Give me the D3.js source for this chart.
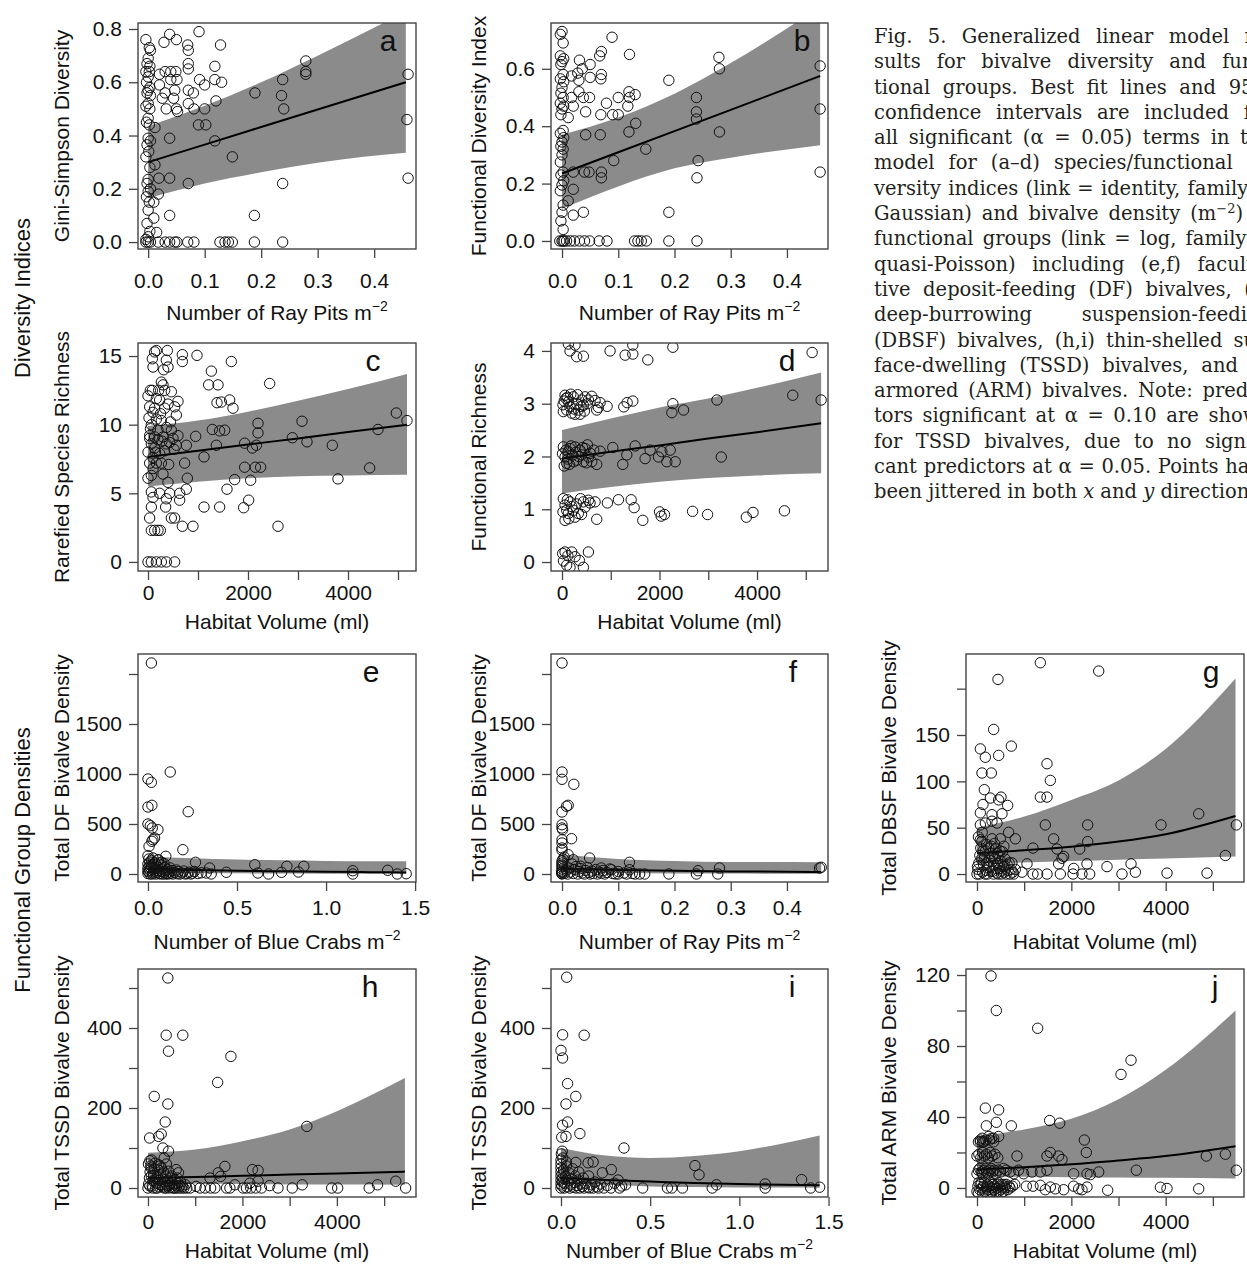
<!DOCTYPE html>
<html>
<head>
<meta charset="utf-8">
<script src="https://cdn.jsdelivr.net/npm/d3@7"></script>
<style>
  body { margin: 0; background: #fff; width: 1247px; height: 1264px; overflow: hidden; position: relative; }
  #fig { position: absolute; left: 0; top: 0; }
  #cap { position: absolute; left: 874px; top: 24px; width: 398px; font-family: "DejaVu Serif", serif;
         font-size: 19.5px; line-height: 25.3px; color: #231f20; }
  #cap .ln { white-space: nowrap; height: 25.3px; }
  #cap sup { font-size: 13px; line-height: 0; }
</style>
</head>
<body>
<svg id="fig"></svg>
<div id="cap"></div>
<script>
// ---------- tick values ----------
const ticksPits = [0, 0.1, 0.2, 0.3, 0.4];
const ticksCrabs = [0, 0.5, 1.0, 1.5];
const ticksHab = [0, 1000, 2000, 3000, 4000, 5000];
const labHab = [0, 2000, 4000];
const yTicksA = [0, 0.2, 0.4, 0.6, 0.8];
const yTicksB = [0, 0.2, 0.4, 0.6];
const yTicksC = [0, 5, 10, 15];
const yTicksD = [0, 1, 2, 3, 4];
const yTicksEF = [0, 500, 1000, 1500, 2000];
const yLabEF = [0, 500, 1000, 1500];
const yTicksG = [0, 50, 100, 150, 200];
const yLabG = [0, 50, 100, 150];
const yTicksHI = [0, 100, 200, 300, 400, 500];
const yLabHI = [0, 200, 400];
const yTicksJ = [0, 20, 40, 60, 80, 100, 120];
const yLabJ = [0, 40, 80, 120];

// ---------- points [x, y] ----------
const ptsA = [
  [-0.004,0.76],[0.002,0.73],[0.004,0.72],[0,0.69],[-0.002,0.67],[0.003,0.66],[-0.004,0.64],[0.002,0.64],[0,0.62],[-0.003,0.60],
  [0.003,0.58],[0,0.57],[-0.002,0.56],[0.004,0.55],[0,0.52],[-0.004,0.51],[0.003,0.50],[0,0.465],[-0.003,0.45],[0.002,0.44],
  [0,0.39],[0.004,0.38],[-0.002,0.365],[0.001,0.34],[-0.004,0.32],[0.003,0.28],[0,0.235],[-0.002,0.22],[0.004,0.20],[0,0.19],
  [-0.003,0.17],[0.002,0.15],[0,0.12],[-0.002,0.07],[0.003,0.04],[0,0.02],[-0.004,0.01],[-0.004,0],[0,0],[0.004,0],
  [0.012,0.43],[0.012,0.29],[0.019,0.24],[0.018,0.18],[0.01,0.15],[0.01,0.09],[0.015,0.036],[0.02,0.63],[0.02,0.59],[0.028,0.75],
  [0.03,0.64],[0.03,0.56],[0.032,0.50],[0.038,0.78],[0.038,0.39],[0.038,0.24],[0.038,0.10],[0.04,0.64],[0.04,0.61],[0.047,0.57],
  [0.049,0.64],[0.05,0.76],[0.05,0.50],[0.051,0.61],[0.052,0.49],[0.025,0.54],[0.045,0.54],[0.07,0.74],[0.071,0.72],[0.071,0.67],
  [0.071,0.65],[0.071,0.57],[0.071,0.52],[0.071,0.22],[0.08,0.56],[0.081,0.50],[0.09,0.79],[0.091,0.61],[0.089,0.44],[0.10,0.59],
  [0.10,0.50],[0.102,0.44],[0.118,0.66],[0.118,0.61],[0.12,0.53],[0.118,0.38],[0.128,0.74],[0.13,0.60],[0.149,0.32],[0.189,0.56],
  [0.188,0.10],[0.238,0.61],[0.236,0.55],[0.24,0.50],[0.238,0.22],[0.279,0.68],[0.279,0.64],[0.279,0.63],[0.46,0.63],[0.458,0.46],
  [0.46,0.24],[0.018,0],[0.03,0],[0.038,0],[0.047,0],[0.051,0],[0.07,0],[0.081,0],[0.127,0],[0.136,0],
  [0.142,0],[0.149,0],[0.188,0],[0.238,0]
];
const ptsB = [
  [0,0.73],[-0.003,0.72],[0.002,0.69],[-0.003,0.645],[0.003,0.635],[0,0.625],[-0.002,0.615],[0.002,0.58],[-0.003,0.565],[0.003,0.555],
  [0,0.535],[-0.002,0.515],[0.002,0.50],[-0.003,0.48],[0.003,0.47],[0,0.46],[-0.002,0.44],[0.002,0.385],[-0.003,0.375],[0.003,0.36],
  [0,0.345],[-0.002,0.33],[0.002,0.32],[0,0.30],[-0.003,0.275],[0.002,0.24],[-0.002,0.23],[0.003,0.21],[0,0.195],[-0.003,0.175],
  [0.002,0.125],[0,0.10],[-0.002,0.07],[0.002,0.04],[-0.004,0],[0,0],[0.004,0],[0.002,0],
  [0.011,0.43],[0.011,0.14],[0.017,0.575],[0.02,0.18],[0.02,0.09],[0.02,0.24],[0.017,0.50],[0.02,0.47],[0.028,0.585],[0.03,0.56],
  [0.031,0.63],[0.03,0.52],[0.036,0.60],[0.038,0.50],[0.038,0.10],[0.04,0.24],[0.042,0.45],[0.042,0.37],[0.048,0.24],[0.049,0.50],
  [0.05,0.615],[0.05,0.57],[0.067,0.645],[0.07,0.66],[0.07,0.58],[0.069,0.565],[0.069,0.44],[0.068,0.37],[0.07,0.24],[0.07,0.22],
  [0.079,0.48],[0.089,0.71],[0.092,0.28],[0.09,0.44],[0.10,0.44],[0.10,0.50],[0.12,0.65],[0.119,0.52],[0.117,0.47],[0.12,0.50],
  [0.13,0.51],[0.131,0.41],[0.119,0.38],[0.149,0.32],[0.19,0.56],[0.19,0.10],[0.239,0.50],[0.239,0.45],[0.239,0.425],[0.242,0.28],
  [0.24,0.22],[0.279,0.64],[0.28,0.60],[0.28,0.38],[0.459,0.61],[0.459,0.46],[0.459,0.24],
  [0.008,0],[0.015,0],[0.022,0],[0.031,0],[0.04,0],[0.049,0],[0.066,0],[0.08,0],[0.129,0],[0.135,0],[0.141,0],[0.15,0],[0.19,0],[0.24,0]
];
const ptsC = [
  [133,15.3],[167,15.4],[87,14.8],[100,14.2],[387,15.4],[367,14.7],[313,14],[400,14.2],[267,13.1],[300,12.9],
  [47,12.5],[87,12.5],[213,12.5],[333,12.5],[467,12.4],[0,12.1],[167,11.9],[233,11.8],[600,11.7],[400,11.5],
  [33,11.3],[133,11.2],[333,11.2],[533,11.3],[100,10.9],[567,10.7],[167,10.4],[267,10.3],[67,10],[367,9.8],
  [200,9.6],[467,9.6],[33,9.2],[133,9.1],[300,9.1],[600,9.2],[33,9],[200,8.9],[500,9],[67,8.6],
  [367,8.6],[433,8.7],[567,8.5],[133,8.3],[333,8.1],[0,8],[233,7.9],[33,7.2],[167,7.2],[267,7.2],
  [413,7.1],[100,6.8],[300,6.4],[67,6.3],[400,5.8],[0,6.1],[67,5.1],[233,5],[433,5],[100,4.7],
  [367,4.6],[67,4],[353,4],[467,3.2],[533,3.2],[33,3.2],[67,2.3],[133,2.3],[200,2.3],[247,2.3],
  [0,0],[67,0],[167,0],[267,0],[367,0],[533,0],[50,9.7],[250,10.8],[150,8.0],[280,8.8],
  [100,7.6],[20,10.5],[450,10.2],[520,8.2],
  [687,15.1],[687,14.6],[767,8.5],[733,7.2],[787,6.1],[767,5.3],[633,5],[633,4.5],[687,2.6],[900,2.6],
  [980,15.05],[953,9.15],[1120,7.65],[1120,4.0],[1267,13.9],[1213,12.9],[1400,12.9],[1380,11.6],[1467,11.65],[1287,9.65],
  [1433,9.55],[1533,9.6],[1367,8.5],[1433,4.0],[1580,5.3],[1633,11.8],[1667,14.6],[1700,11.2],[1733,6.0],[1933,8.65],
  [1933,6.9],[1913,3.95],[2013,4.5],[2087,8.3],[2053,5.95],[2167,8.5],[2200,10.1],[2200,9.4],[2147,6.9],[2253,6.9],
  [2433,13.0],[2600,2.6],[2887,9.05],[3080,10.25],[3180,8.75],[3687,8.5],[3800,6.05],[4433,6.85],[4600,9.65],[4967,10.85],
  [5180,10.3]
];
const ptsD = [
  [130,4.13],[164,4.0],[267,4.11],[301,3.89],[438,3.9],[986,4.0],[1295,3.92],[1452,3.94],[1452,4.11],[1760,3.83],[2274,4.07],[5130,3.97],
  [27,2.85],[62,3.16],[130,3.04],[164,2.94],[233,3.13],[301,3.0],[336,2.88],[404,3.07],[438,2.97],[473,3.13],
  [96,2.88],[199,2.82],[267,2.8],[370,2.8],[541,3.07],[610,3.14],[678,3.06],[712,2.88],[781,3.02],[747,2.93],
  [45,3.05],[110,3.12],[180,3.18],[250,2.9],[320,3.17],[390,2.95],[460,2.86],[520,3.0],[20,2.98],[80,3.1],
  [925,2.95],[1267,2.94],[1336,3.02],[1452,3.05],[2274,3.0],[2253,2.83],[2493,2.88],[3178,3.07],[4733,3.16],[5315,3.07],
  [27,2.18],[62,1.99],[96,1.87],[130,2.09],[164,2.15],[219,2.03],[267,2.18],[301,1.93],[370,2.12],[404,2.03],
  [438,1.9],[473,2.15],[521,2.22],[541,1.99],[610,1.9],[712,1.85],[781,2.1],[10,2.05],[45,1.82],[80,2.12],
  [115,1.95],[150,1.85],[185,2.2],[240,1.9],[285,2.08],[340,2.0],[420,2.17],[500,1.88],[580,2.06],[650,2.12],
  [1041,2.17],[1247,1.85],[1329,2.03],[1500,2.2],[1705,1.96],[1808,2.12],[1979,1.99],[2048,2.09],[2219,2.12],[2150,1.9],
  [2322,1.9],[3267,1.99],
  [27,1.2],[62,1.08],[96,0.98],[62,0.79],[130,0.92],[164,1.14],[233,0.98],[267,0.85],[336,0.92],[438,1.14],
  [473,1.04],[541,1.17],[575,1.12],[678,1.14],[20,0.95],[110,1.18],[200,1.05],[300,1.1],[400,0.9],[140,0.82],[380,1.2],
  [712,0.81],[931,1.12],[1158,1.18],[1418,1.18],[1479,1.03],[1657,0.79],[2000,0.95],[2034,0.87],[2103,0.9],[2678,0.96],
  [2986,0.9],[3781,0.85],[3918,0.94],[4562,0.97],
  [13,0.16],[62,0.19],[199,0.19],[267,0.1],[96,-0.06],[164,-0.1],[356,0.03],[438,-0.1],[541,0.19],[30,0.02],[120,0.12]
];
const ptsE = [
  [0.019,2110],[0,950],[0.019,917],[0.125,1020],[0,670],[0.022,687],[0,500],[0.013,483],[0.024,460],[0.056,443],
  [0.028,343],[0.037,360],[0.022,327],[0.006,277],[0.226,623],[0.196,243],[0.1,177],[0,183],[0.028,160],[0.056,143],
  [0.075,117],[0.267,117],[0.346,60],[0.327,10],[0.355,0],[0.44,17],[0.6,93],[0.617,10],[0.677,0],[0.75,17],
  [0.78,77],[0.845,20],[0.875,77],[1.15,33],[1.15,0],[1.346,37],[1.4,0],[1.45,3],
  [0,5],[0.005,20],[0.01,40],[0.015,60],[0.02,80],[0,100],[0.01,120],[0.03,10],[0.035,30],[0.04,55],
  [0.045,0],[0.05,15],[0.055,70],[0.06,35],[0.065,5],[0.07,90],[0.075,25],[0.08,50],[0.085,0],[0.09,12],
  [0.095,65],[0.1,30],[0.105,5],[0.11,45],[0.115,0],[0.12,20],[0.13,8],[0.135,35],[0.14,0],[0.15,15],
  [0.16,40],[0.165,2],[0.17,25],[0.18,0],[0.19,10],[0.2,30],[0.21,0],[0.22,5],[0.23,18],[0.24,0],
  [0.25,8],[0.26,25],[0.28,5],[0.3,12],[0.005,150],[0.02,135],[0.04,110],[0.06,140],[0.09,105],[0,60],
  [0,30],[0.012,0],[0.025,0],[0.03,95],[0.07,0],[0.1,0],[0.125,60],[0.008,75]
];
const ptsF = [
  [0,2110],[0,1020],[0,947],[0.021,897],[0.011,687],[0.008,677],[0,620],[0,493],[0,460],[0.001,443],
  [0.017,353],[0,343],[0,310],[0,260],[0,237],[0.011,193],[0.02,143],[0.049,160],[0.033,77],[0.12,117],
  [0.12,43],[0.07,60],[0.088,43],[0.1,0],[0.13,0],[0.138,0],[0.147,0],[0.19,0],[0.239,0],[0.242,33],
  [0.277,0],[0.28,60],[0.458,60],[0.461,67],
  [0,0],[0,15],[0,30],[0,50],[0,70],[0,90],[0,110],[0,130],[0.002,150],[0.004,170],
  [0.005,8],[0.008,40],[0.01,0],[0.012,60],[0.015,20],[0.018,100],[0.02,5],[0.022,45],[0.025,75],[0.028,0],
  [0.03,25],[0.033,55],[0.036,10],[0.04,0],[0.042,35],[0.045,65],[0.048,15],[0.05,0],[0.053,30],[0.056,5],
  [0.06,45],[0.063,0],[0.066,20],[0.07,8],[0.073,35],[0.076,0],[0.08,15],[0.085,50],[0.09,5],[0.095,0],
  [0.1,25],[0.11,10],[0.115,0],[0.125,5],[0,5],[0,20],[0.001,80]
];
const ptsG = [
  [1343,228],[2580,219],[445,210],[353,156],[71,135],[177,126],[459,128],[728,138],[106,109],[304,109],
  [1484,119],[1555,101],[1343,83],[1484,83],[155,91],[283,82],[459,80],[509,83],[650,74],[127,75],
  [71,66],[318,64],[530,65],[71,53],[177,55],[424,55],[318,57],[671,45],[813,38],[495,38],
  [71,37],[1449,53],[1625,38],[1696,27],[1837,19],[1802,17],[1187,28],[2177,27],[2346,53],[2346,35],
  [2332,11],[1731,11],[1060,11],[3901,53],[4700,65],[5265,20],[5498,53],[2756,8],[3265,11],[3357,2],
  [3074,0],[4028,1],[4876,1],[2389,0],[2226,0],[2049,6],[2035,0],[1767,0],[1484,0],[1286,0],
  [1187,0],[954,2],[777,0],[813,5],
  [0,0],[20,5],[40,12],[60,20],[80,28],[100,35],[120,2],[140,10],[160,18],[180,25],
  [200,32],[220,0],[240,7],[260,15],[280,22],[300,30],[320,38],[340,3],[360,9],[380,17],
  [400,27],[420,1],[440,12],[460,20],[480,6],[500,14],[520,0],[540,24],[560,8],[580,2],
  [600,16],[620,0],[640,10],[660,4],[680,12],[700,0],[10,8],[50,0],[90,16],[130,25],
  [170,0],[210,12],[250,28],[290,3],[330,19],[370,33],[410,6],[450,0],[490,25],[530,10],
  [570,30],[30,40],[110,45],[190,4],[270,8],[350,0],[430,22],[510,3],[590,9],[720,5],[740,12],[760,2]
];
const ptsH = [
  [421,525],[386,382],[737,382],[435,342],[1756,329],[1475,264],[133,229],[421,210],[365,165],[281,135],
  [225,129],[35,125],[3364,154],[316,100],[435,92],[344,75],[1629,54],[597,46],[646,38],[2212,46],
  [2331,44],[1489,38],[1313,25],[1538,29],[1840,8],[1664,0],[1735,0],[2015,0],[2085,0],[2176,0],
  [2282,0],[2402,0],[2577,6],[2753,0],[3055,0],[3266,8],[3890,0],[4017,0],[4684,0],[4860,8],
  [5246,17],[5456,0],[1103,0],[1208,0],[1327,0],[1418,0],[1018,4],[892,0],[822,0],[2331,17],[2156,12],
  [0,0],[15,10],[30,25],[45,40],[60,55],[75,70],[90,5],[105,18],[120,32],[135,48],
  [150,62],[165,0],[180,12],[195,28],[210,45],[225,58],[240,3],[255,20],[270,35],[285,50],
  [300,8],[315,22],[330,40],[345,0],[360,15],[375,30],[390,60],[405,5],[420,18],[435,42],
  [450,0],[465,10],[480,25],[495,2],[510,14],[530,0],[550,8],[570,20],[590,0],[610,5],
  [630,12],[650,0],[670,6],[690,15],[710,0],[730,4],[760,0],[790,8],[10,60],[40,5],
  [70,30],[100,0],[140,15],[200,0],[260,8],[320,3],[380,0],[440,6],[500,30],[560,0],[620,25],[40,68],[70,50],[260,55]
];
const ptsI = [
  [0.032,527],[0.009,383],[0.13,382],[0,344],[0.009,325],[0.037,261],[0.083,229],[0.028,210],[0.037,165],[0.009,157],
  [0.106,136],[0.004,127],[0.028,129],[0.353,100],[0.007,92],[0.751,56],[0.774,33],[0.282,46],[0.232,38],[0.152,63],
  [0.18,65],[0.083,64],[0.362,8],[0.328,0],[0.458,0],[0.597,0],[0.621,0],[0.681,0],[0.848,0],[0.872,8],
  [1.145,10],[1.145,0],[1.349,21],[1.4,0],[1.45,2],
  [0,0],[0,10],[0,20],[0,30],[0,40],[0,50],[0,60],[0,70],[0.005,5],[0.008,15],
  [0.01,25],[0.012,35],[0.015,45],[0.018,0],[0.02,12],[0.025,28],[0.03,55],[0.035,3],[0.04,18],[0.045,38],
  [0.05,0],[0.055,8],[0.06,22],[0.065,48],[0.07,2],[0.075,14],[0.08,30],[0.085,0],[0.09,6],[0.095,20],
  [0.1,40],[0.105,0],[0.11,10],[0.12,4],[0.125,25],[0.13,0],[0.14,12],[0.15,2],[0.155,30],[0.16,0],
  [0.17,8],[0.18,0],[0.19,15],[0.2,3],[0.21,0],[0.22,10],[0.24,0],[0.26,6],[0.28,0],[0.3,12],
  [0.32,20],[0.34,5],[0.002,85],[0.01,75],[0.03,65]
];
const ptsJ = [
  [297,119.5],[410,100],[1286,90],[3053,64],[3265,72],[177,45],[459,44],[198,35],[410,37],[728,35],
  [1541,38],[1753,36.5],[71,26],[120,26],[268,27],[353,28],[459,29],[2276,27],[2318,20],[1555,20],
  [4862,18],[5265,19],[848,18],[1484,18],[1731,18],[1802,16],[989,8],[1166,9],[1343,9],[1484,10],
  [2049,8],[2332,8],[2403,7.5],[2580,9],[3378,10],[5498,10],[1046,1],[1187,1],[1343,1.5],[1449,-1],
  [1555,0.5],[1661,-0.5],[1837,-1],[2049,1],[2155,-0.5],[2226,-1],[2332,0.5],[2770,-1.3],[3887,0.4],[4028,-0.3],[4700,-0.5],
  [0,-2],[20,1],[40,3],[60,-1],[80,2],[100,0],[120,-3],[140,1],[160,3],[180,-2],
  [200,0],[220,2],[240,-1],[260,1],[280,3],[300,-2],[320,0],[340,2],[360,-1],[380,1],
  [400,-3],[420,0],[440,2],[460,-2],[480,1],[500,-1],[520,2],[540,0],[560,-2],[580,1],
  [600,0],[620,2],[650,-1],[680,1],[700,0],[750,1],[800,2],[30,-3],[90,3],[150,-2],
  [210,1],[270,-3],[330,2],[390,-2],[450,3],[510,-3],[570,2],
  [0,8],[30,10],[60,11],[90,9],[120,8],[150,10],[180,11],[210,9],[240,8],[270,10],
  [300,11],[330,9],[360,10],[400,8],[450,10],[500,9],[560,11],[620,10],[700,9],[780,8],[880,10],
  [0,18],[40,19],[80,17],[120,20],[160,18],[200,19],[240,17],[280,20],[320,18],[380,19],[440,17],
  [30,26],[70,27],[110,28],[150,26],[190,27],[250,29],[310,28],[350,26]
];

// ---------- fitted lines and 95% bands ----------
const bxA = [0, 0.1, 0.2, 0.3, 0.456];
const fitA = [0.30, 0.366, 0.432, 0.498, 0.60];
const loA = [0.165, 0.22, 0.262, 0.298, 0.335];
const hiA = [0.435, 0.512, 0.60, 0.70, 0.865];
const bxB = [0, 0.1, 0.2, 0.3, 0.459];
const fitB = [0.235, 0.309, 0.383, 0.457, 0.575];
const loB = [0.112, 0.19, 0.253, 0.29, 0.334];
const hiB = [0.37, 0.43, 0.513, 0.62, 0.816];
const bxC = [0, 1000, 2000, 3000, 4000, 5180];
const fitC = [7.65, 8.1, 8.56, 9.0, 9.47, 10.0];
const loC = [5.5, 5.85, 6.1, 6.25, 6.3, 6.35];
const hiC = [9.9, 10.3, 10.95, 11.75, 12.6, 13.7];
const bxD = [0, 1000, 2000, 3000, 4000, 5315];
const fitD = [1.96, 2.09, 2.21, 2.34, 2.46, 2.63];
const loD = [1.30, 1.42, 1.52, 1.59, 1.64, 1.68];
const hiD = [2.5, 2.72, 2.93, 3.1, 3.3, 3.59];
const bxE = [0, 0.25, 0.5, 0.75, 1.0, 1.25, 1.45];
const fitE = [48, 40, 33, 27, 22, 18, 15];
const loE = [13, 10, 7, 5, 3.5, 2.5, 1.8];
const hiE = [175, 158, 145, 137, 131, 128, 127];
const bxF = [0, 0.1, 0.2, 0.3, 0.461];
const fitF = [52, 40, 32, 26, 20];
const loF = [14, 9, 6, 4, 3];
const hiF = [195, 150, 130, 120, 118];
const bxG = [0, 1000, 2000, 3000, 4000, 5480];
const fitG = [22.6, 25.6, 29.5, 35, 43, 62.7];
const loG = [11, 12.5, 14, 15.5, 16.8, 19];
const hiG = [50, 62, 80, 101, 135, 211];
const bxH = [0, 1000, 2000, 3000, 4000, 5440];
const fitH = [25, 27.5, 30.5, 33.5, 36.5, 41];
const loH = [12, 11, 10, 9, 8.5, 8];
const hiH = [88, 96, 117, 146, 192, 275];
const bxI = [0, 0.25, 0.5, 0.75, 1.0, 1.25, 1.45];
const fitI = [25, 20, 16, 12.5, 10, 8, 7];
const loI = [12, 8, 4, 2.5, 1.5, 1, 0.5];
const hiI = [100, 81, 75, 80, 92, 112, 131];
const bxJ = [0, 1000, 2000, 3000, 4000, 5480];
const fitJ = [10.3, 11.7, 13.3, 15.5, 18, 23.5];
const loJ = [6.5, 6.3, 6.1, 5.9, 5.7, 5.3];
const hiJ = [29, 33, 39, 50, 66.6, 100];

const captionLines = [
  "Fig. 5. Generalized linear model re-",
  "sults for bivalve diversity and func-",
  "tional groups. Best fit lines and 95%",
  "confidence intervals are included for",
  "all significant (α = 0.05) terms in the",
  "model for (a–d) species/functional di-",
  "versity indices (link = identity, family =",
  "Gaussian) and bivalve density (m<sup>−2</sup>) of",
  "functional groups (link = log, family =",
  "quasi-Poisson) including (e,f) faculta-",
  "tive deposit-feeding (DF) bivalves, (g)",
  "deep-burrowing suspension-feeding",
  "(DBSF) bivalves, (h,i) thin-shelled sur-",
  "face-dwelling (TSSD) bivalves, and (j)",
  "armored (ARM) bivalves. Note: predic-",
  "tors significant at α = 0.10 are shown",
  "for TSSD bivalves, due to no signifi-",
  "cant predictors at α = 0.05. Points have",
  "been jittered in both <i>x</i> and <i>y</i> directions."
];

// ---------- layout ----------
const W = 1247, H = 1264;
const cols = [[138, 416], [551, 828], [966, 1244]];
const rows = [[23, 249], [343, 571], [654, 882], [969, 1197]];
const xLabPad = [15, 5, 9, 8];
const xTitleY = [320, 629, 949, 1258];
const yTitleX = [62, 479, 889];
const FONT = "'Liberation Sans', Arial, sans-serif";

const PITS = { base: "Number of Ray Pits m", sup: "−2" };
const CRABS = { base: "Number of Blue Crabs m", sup: "−2" };
const HAB = { base: "Habitat Volume (ml)", sup: null };
const f1 = d3.format(".1f"), f0 = d3.format("d");

const panels = [
  { id: "a", c: 0, r: 0, xDom: [-0.018, 0.474], yDom: [-0.026, 0.8225], xT: ticksPits, xL: ticksPits, xF: f1,
    yT: yTicksA, yL: yTicksA, yF: f1, pts: ptsA, bx: bxA, fit: fitA, lo: loA, hi: hiA, xTitle: PITS, yTitle: "Gini-Simpson Diversity", ldx: 28 },
  { id: "b", c: 1, r: 0, xDom: [-0.0196, 0.473], yDom: [-0.028, 0.7596], xT: ticksPits, xL: ticksPits, xF: f1,
    yT: yTicksB, yL: yTicksB, yF: f1, pts: ptsB, bx: bxB, fit: fitB, lo: loB, hi: hiB, xTitle: PITS, yTitle: "Functional Diversity Index", ldx: 26 },
  { id: "c", c: 0, r: 1, xDom: [-200, 5360], yDom: [-0.66, 15.95], xT: ticksHab, xL: labHab, xF: f0,
    yT: yTicksC, yL: yTicksC, yF: f0, pts: ptsC, bx: bxC, fit: fitC, lo: loC, hi: hiC, xTitle: HAB, yTitle: "Rarefied Species Richness", ldx: 43 },
  { id: "d", c: 1, r: 1, xDom: [-226, 5456], yDom: [-0.17, 4.15], xT: ticksHab, xL: labHab, xF: f0,
    yT: yTicksD, yL: yTicksD, yF: f0, pts: ptsD, bx: bxD, fit: fitD, lo: loD, hi: hiD, xTitle: HAB, yTitle: "Functional Richness", ldx: 41 },
  { id: "e", c: 0, r: 2, xDom: [-0.056, 1.505], yDom: [-80, 2200], xT: ticksCrabs, xL: ticksCrabs, xF: f1,
    yT: yTicksEF, yL: yLabEF, yF: f0, pts: ptsE, bx: bxE, fit: fitE, lo: loE, hi: hiE, xTitle: CRABS, yTitle: "Total DF Bivalve Density", ldx: 45 },
  { id: "f", c: 1, r: 2, xDom: [-0.0196, 0.473], yDom: [-80, 2200], xT: ticksPits, xL: ticksPits, xF: f1,
    yT: yTicksEF, yL: yLabEF, yF: f0, pts: ptsF, bx: bxF, fit: fitF, lo: loF, hi: hiF, xTitle: PITS, yTitle: "Total DF Bivalve Density", ldx: 35 },
  { id: "g", c: 2, r: 2, xDom: [-233, 5660], yDom: [-8.6, 237.4], xT: ticksHab, xL: labHab, xF: f0,
    yT: yTicksG, yL: yLabG, yF: f0, pts: ptsG, bx: bxG, fit: fitG, lo: loG, hi: hiG, xTitle: HAB, yTitle: "Total DBSF Bivalve Density", ldx: 33 },
  { id: "h", c: 0, r: 3, xDom: [-211, 5675], yDom: [-22.5, 547.5], xT: ticksHab, xL: labHab, xF: f0,
    yT: yTicksHI, yL: yLabHI, yF: f0, pts: ptsH, bx: bxH, fit: fitH, lo: loH, hi: hiH, xTitle: HAB, yTitle: "Total TSSD Bivalve Density", ldx: 46 },
  { id: "i", c: 1, r: 3, xDom: [-0.056, 1.497], yDom: [-22.5, 547.5], xT: ticksCrabs, xL: ticksCrabs, xF: f1,
    yT: yTicksHI, yL: yLabHI, yF: f0, pts: ptsI, bx: bxI, fit: fitI, lo: loI, hi: hiI, xTitle: CRABS, yTitle: "Total TSSD Bivalve Density", ldx: 36 },
  { id: "j", c: 2, r: 3, xDom: [-233, 5660], yDom: [-5.1, 123.4], xT: ticksHab, xL: labHab, xF: f0,
    yT: yTicksJ, yL: yLabJ, yF: f0, pts: ptsJ, bx: bxJ, fit: fitJ, lo: loJ, hi: hiJ, xTitle: HAB, yTitle: "Total ARM Bivalve Density", ldx: 29 }
];

const svg = d3.select("#fig").attr("width", W).attr("height", H);
svg.append("rect").attr("width", W).attr("height", H).attr("fill", "#fff");
const defs = svg.append("defs");

panels.forEach(p => {
  const [x0, x1] = cols[p.c], [y0, y1] = rows[p.r];
  const x = d3.scaleLinear().domain(p.xDom).range([x0, x1]);
  const y = d3.scaleLinear().domain(p.yDom).range([y1, y0]);
  const g = svg.append("g");

  defs.append("clipPath").attr("id", "clip-" + p.id)
    .append("rect").attr("x", x0).attr("y", y0).attr("width", x1 - x0).attr("height", y1 - y0);
  const inner = g.append("g").attr("clip-path", `url(#clip-${p.id})`);

  const band = p.bx.map((v, i) => ({ x: v, fit: p.fit[i], lo: p.lo[i], hi: p.hi[i] }));
  inner.append("path").datum(band)
    .attr("d", d3.area().x(d => x(d.x)).y0(d => y(d.lo)).y1(d => y(d.hi)).curve(d3.curveMonotoneX))
    .attr("fill", "#8b8b8b");
  inner.append("path").datum(band)
    .attr("d", d3.line().x(d => x(d.x)).y(d => y(d.fit)).curve(d3.curveMonotoneX))
    .attr("fill", "none").attr("stroke", "#000").attr("stroke-width", 2);

  inner.selectAll("circle").data(p.pts).join("circle")
    .attr("cx", d => x(d[0])).attr("cy", d => y(d[1])).attr("r", 5.2)
    .attr("fill", "none").attr("stroke", "#111").attr("stroke-width", 1);

  // box
  g.append("rect").attr("x", x0).attr("y", y0).attr("width", x1 - x0).attr("height", y1 - y0)
    .attr("fill", "none").attr("stroke", "#444").attr("stroke-width", 1.4);

  // axes
  const xa = g.append("g").attr("transform", `translate(0,${y1})`)
    .call(d3.axisBottom(x).tickValues(p.xT).tickSize(9).tickSizeOuter(0).tickPadding(xLabPad[p.r])
      .tickFormat(d => p.xL.includes(d) ? p.xF(d) : ""));
  const ya = g.append("g").attr("transform", `translate(${x0},0)`)
    .call(d3.axisLeft(y).tickValues(p.yT).tickSize(9).tickSizeOuter(0).tickPadding(7)
      .tickFormat(d => p.yL.includes(d) ? p.yF(d) : ""));
  [xa, ya].forEach(a => {
    a.select(".domain").remove();
    a.attr("font-family", FONT).attr("font-size", 21);
    a.selectAll("line").attr("stroke", "#444").attr("stroke-width", 1.3);
    a.selectAll("text").attr("fill", "#111");
  });

  // panel letter
  g.append("text").attr("x", x1 - p.ldx).attr("y", y0 + 28).attr("text-anchor", "middle")
    .attr("font-family", FONT).attr("font-size", 30).attr("fill", "#111").text(p.id);

  // axis titles
  const xt = g.append("text").attr("x", (x0 + x1) / 2).attr("y", xTitleY[p.r]).attr("text-anchor", "middle")
    .attr("font-family", FONT).attr("font-size", 21).attr("fill", "#111");
  xt.append("tspan").text(p.xTitle.base);
  if (p.xTitle.sup) xt.append("tspan").attr("dy", -9).attr("font-size", 14).text(p.xTitle.sup);

  g.append("text").attr("transform", `translate(${yTitleX[p.c] + 7},${(y0 + y1) / 2}) rotate(-90)`)
    .attr("text-anchor", "middle").attr("font-family", FONT).attr("font-size", 21).attr("fill", "#111")
    .text(p.yTitle);
});

// group labels
[["Diversity Indices", 298], ["Functional Group Densities", 860]].forEach(([t, cy]) => {
  svg.append("text").attr("transform", `translate(${22 + 8},${cy}) rotate(-90)`)
    .attr("text-anchor", "middle").attr("font-family", FONT).attr("font-size", 22).attr("fill", "#111").text(t);
});

// caption, justified line by line
const cap = d3.select("#cap");
const capW = 398;
captionLines.forEach((html, i) => {
  const ln = cap.append("div").attr("class", "ln");
  const span = ln.append("span").html(html);
  if (i < captionLines.length - 1) {
    const natural = span.node().getBoundingClientRect().width;
    const gaps = (span.node().textContent.match(/ /g) || []).length;
    if (gaps > 0) span.style("word-spacing", ((capW - natural) / gaps) + "px");
  }
});
</script>
</body>
</html>
